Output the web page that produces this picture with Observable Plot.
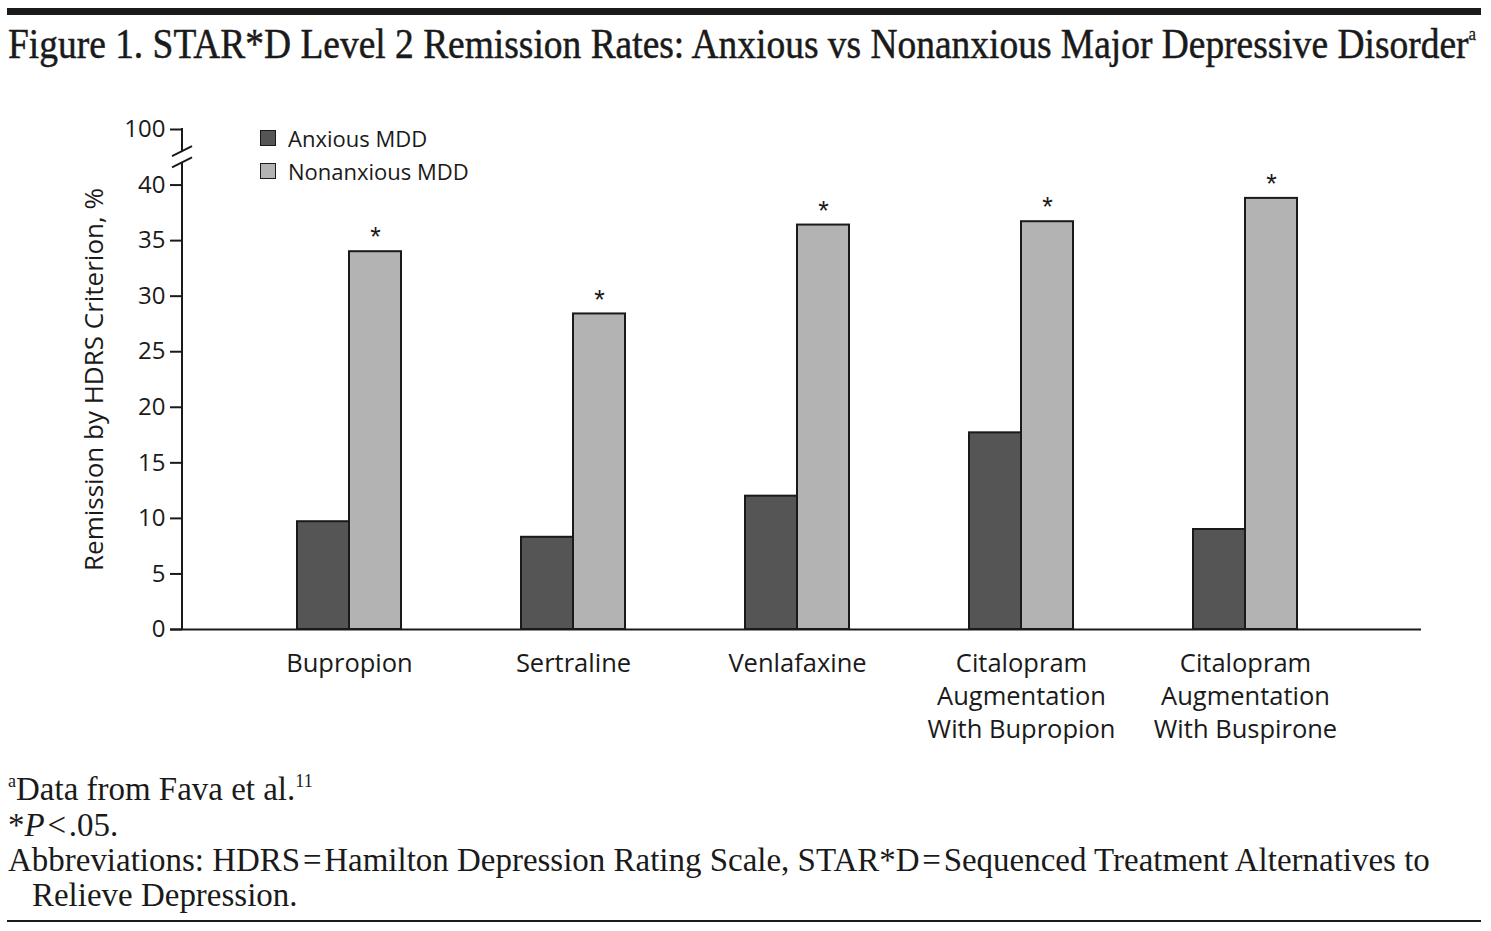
<!DOCTYPE html>
<html>
<head>
<meta charset="utf-8">
<script src="https://cdn.jsdelivr.net/npm/d3@7"></script>
<script src="https://cdn.jsdelivr.net/npm/@observablehq/plot@0.6"></script>
<style>
html, body { margin: 0; padding: 0; background: #fff; }
#page { position: relative; width: 1491px; height: 931px; overflow: hidden; background: #fff; }
.rule { position: absolute; background: #1a1a1a; }
#title { position: absolute; left: 8px; top: 23px; font-family: "Liberation Serif", serif; font-size: 42px; line-height: 42px; color: #1a1a1a; white-space: nowrap; transform-origin: 0 0; -webkit-text-stroke: 0.5px #1a1a1a; }
#title sup { font-size: 0.45em; vertical-align: 0.95em; line-height: 0; -webkit-text-stroke: 0.3px #1a1a1a; }
#chart { position: absolute; left: 0; top: 100px; }
#legend { position: absolute; left: 260px; top: 121px; font-family: "Open Sans", sans-serif; font-size: 22px; color: #1a1a1a; }
#legend .item { display: flex; align-items: center; height: 33px; }
#legend .sw { width: 14px; height: 14px; border: 1.5px solid #1a1a1a; margin-right: 12px; }
.foot { position: absolute; left: 8px; font-family: "Liberation Serif", serif; font-size: 28px; line-height: 28px; color: #1a1a1a; white-space: nowrap; }
.foot sup { font-size: 0.55em; vertical-align: 0.7em; line-height: 0; }
</style>
</head>
<body>
<div id="page">
  <div class="rule" style="left:7px; top:8px; width:1474px; height:7px;"></div>
  <div id="title"></div>
  <div id="chart"></div>
  <div id="legend"></div>
  <div id="f1" class="foot"></div>
  <div id="f2" class="foot"></div>
  <div id="f3" class="foot"></div>
  <div id="f4" class="foot" style="left:32px;"></div>
  <div class="rule" style="left:7px; top:920px; width:1474px; height:2px;"></div>
</div>
<script>
// ---------- data ----------
const drugs = ["Bupropion", "Sertraline", "Venlafaxine", "Citalopram Augmentation With Bupropion", "Citalopram Augmentation With Buspirone"];
const drugLabels = ["Bupropion", "Sertraline", "Venlafaxine", "Citalopram\nAugmentation\nWith Bupropion", "Citalopram\nAugmentation\nWith Buspirone"];
const anxious = [9.7, 8.3, 12.0, 17.7, 9.0];
const nonanxious = [34.0, 28.4, 36.4, 36.7, 38.8];
const significant = [true, true, true, true, true];
const groups = ["Anxious MDD", "Nonanxious MDD"];
const groupColors = ["#555555", "#b3b3b3"];
const yTickValues = [0, 5, 10, 15, 20, 25, 30, 35, 40, 100];
const yLabel = "Remission by HDRS Criterion, %";
const titleText = "Figure 1. STAR*D Level 2 Remission Rates: Anxious vs Nonanxious Major Depressive Disorder";

// axis break: values above 40 are drawn at position 45
const BREAK_AT = 40, BREAK_POS = 45, BREAK_MARKS = [43, 42];
const pos = v => (v > BREAK_AT ? BREAK_POS : v);

const rows = drugs.flatMap((d, i) => [
  {drug: d, group: groups[0], value: anxious[i], sig: false},
  {drug: d, group: groups[1], value: nonanxious[i], sig: significant[i]}
]);

// ---------- title / notes ----------
document.getElementById("title").innerHTML = titleText + "<sup>a</sup>";
document.getElementById("f1").innerHTML = "<sup>a</sup>Data from Fava et al.<sup>11</sup>";
document.getElementById("f2").innerHTML = "*<i>P</i>\u200a<\u200a.05.";
document.getElementById("f3").innerHTML = "Abbreviations: HDRS\u200a=\u200aHamilton Depression Rating Scale, STAR*D\u200a=\u200aSequenced Treatment Alternatives to";
document.getElementById("f4").innerHTML = "Relieve Depression.";

// legend
const legend = document.getElementById("legend");
groups.forEach((g, i) => {
  const it = document.createElement("div");
  it.className = "item";
  it.innerHTML = `<span class="sw" style="background:${groupColors[i]}"></span><span>${g}</span>`;
  legend.appendChild(it);
});

// ---------- chart ----------
const W = 1491, H = 660;
const axisColor = "#1a1a1a";

function yAxisLine(index, scales, values, dimensions) {
  const y = scales.y;
  const x0 = dimensions.marginLeft;
  const g = d3.create("svg:g").attr("stroke", axisColor).attr("stroke-width", 2).attr("fill", "none");
  g.append("line").attr("x1", x0).attr("x2", x0).attr("y1", y(BREAK_POS) - 1).attr("y2", y(BREAK_MARKS[0]));
  g.append("line").attr("x1", x0).attr("x2", x0).attr("y1", y(BREAK_MARKS[1])).attr("y2", y(0));
  for (const b of BREAK_MARKS) {
    g.append("line").attr("x1", x0 - 10).attr("x2", x0 + 10).attr("y1", y(b) + 5).attr("y2", y(b) - 5);
  }
  return g.node();
}

const plot = Plot.plot({
  width: W,
  height: H,
  marginTop: 29,
  marginBottom: 131,
  marginLeft: 182,
  marginRight: 70,
  style: {fontFamily: "'Open Sans', sans-serif", color: axisColor, background: "#fff"},
  x: {type: "band", domain: drugs, paddingInner: 0.5362, paddingOuter: 0.5307, align: 0.479, axis: null},
  y: {domain: [0, BREAK_POS], axis: null},
  color: {domain: groups, range: groupColors},
  marks: [
    Plot.barY(rows.filter(d => d.group === groups[0]), {x: "drug", y: "value", fill: "group", stroke: axisColor, strokeWidth: 2, insetRight: 52}),
    Plot.barY(rows.filter(d => d.group === groups[1]), {x: "drug", y: "value", fill: "group", stroke: axisColor, strokeWidth: 2, insetLeft: 52}),
    Plot.text(rows.filter(d => d.sig), {x: "drug", y: "value", text: () => "*", dx: 26, dy: -14, fontSize: 27, fill: axisColor, fontFamily: "'Liberation Sans', sans-serif"}),
    Plot.ruleY([0], {stroke: axisColor, strokeWidth: 2, insetLeft: -12}),
    yAxisLine,
    Plot.axisY({
      ticks: yTickValues.map(pos),
      tickFormat: (d, i) => String(yTickValues[i]),
      tickSize: 12,
      tickPadding: 5,
      strokeWidth: 2,
      stroke: axisColor,
      fill: axisColor,
      fontSize: 24,
      label: yLabel,
      labelAnchor: "center",
      labelOffset: 98,
      labelArrow: "none"
    }),
    Plot.axisX({
      tickSize: 0,
      tickPadding: 19,
      tickFormat: d => drugLabels[drugs.indexOf(d)],
      fontSize: 25.5,
      lineHeight: 1.3,
      fill: axisColor,
      label: null
    })
  ]
});
document.getElementById("chart").appendChild(plot);

plot.querySelectorAll("text").forEach(t => {
  if (t.textContent === yLabel) t.setAttribute("font-size", 26);
});

// ---------- fit text widths ----------
const title = document.getElementById("title");
const tw = title.getBoundingClientRect().width;
title.style.transform = `scaleX(${1468 / tw})`;

const f3 = document.getElementById("f3");
const w3 = f3.getBoundingClientRect().width;
const fs = 28 * 1422 / w3;
const baselines = [801, 837, 872, 907];
["f1", "f2", "f3", "f4"].forEach((id, i) => {
  const el = document.getElementById(id);
  el.style.fontSize = fs + "px";
  el.style.lineHeight = fs + "px";
  el.style.top = (baselines[i] - 0.84 * fs) + "px";
});
</script>
</body>
</html>
